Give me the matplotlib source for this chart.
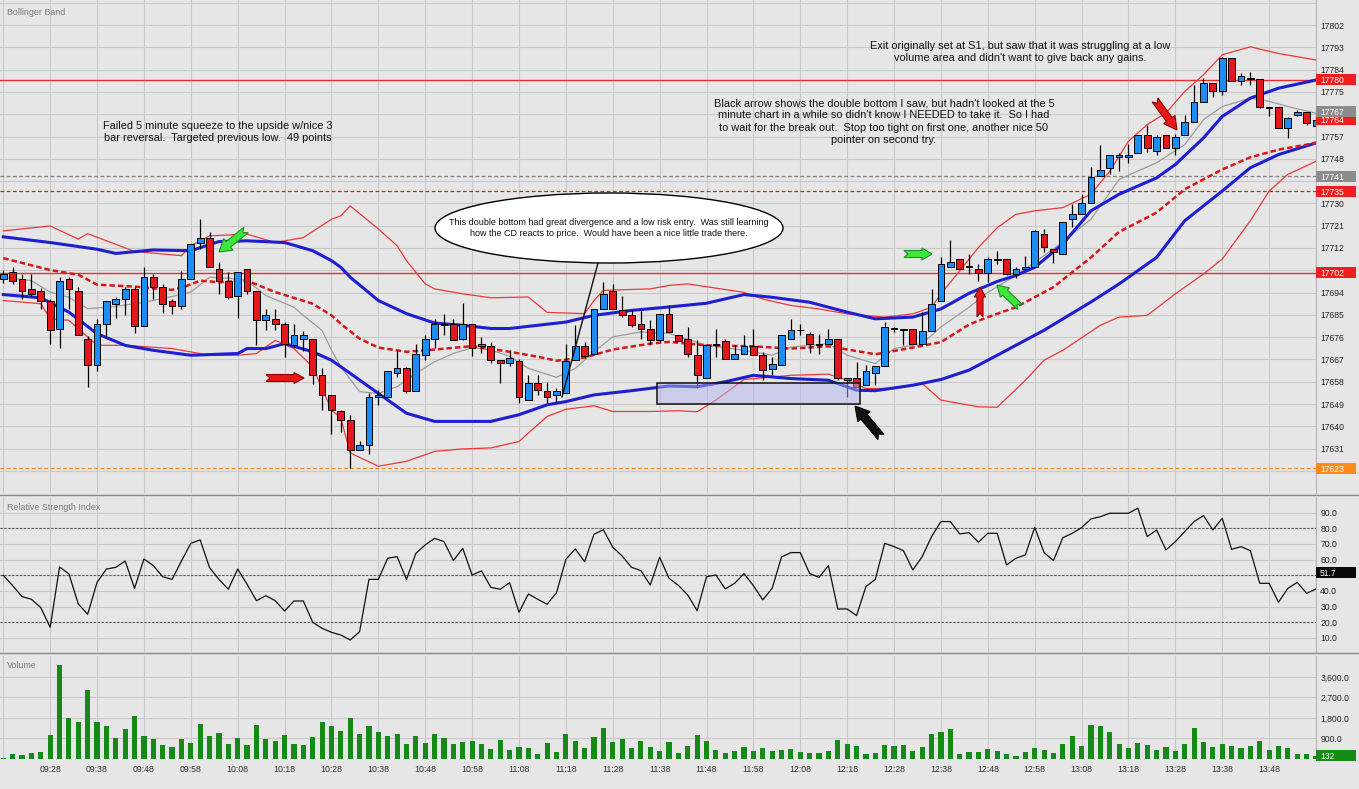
import numpy as np
import matplotlib
matplotlib.use("Agg")
import matplotlib.pyplot as plt
import matplotlib.transforms as mtransforms
from matplotlib.patches import Rectangle, Ellipse, Polygon

plt.rcParams['font.family'] = ['Liberation Sans', 'DejaVu Sans']

# ---------------- data (2-minute bars, 09:18 .. 13:58) ----------------
opens = [17699.5,17702.3,17699.5,17695.5,17694.8,17690.5,17679.4,17699.5,17694.5,17675.4,
         17664.7,17681.4,17689.4,17691.5,17695.5,17680.6,17700.2,17696.4,17690.5,17688.7,
         17699.5,17714.2,17716.2,17703.5,17698.8,17692.8,17703.5,17694.8,17682.8,17683.4,
         17681.4,17672.7,17675.4,17675.4,17660.7,17652.6,17646.0,17642.6,17630.3,17632.6,
         17652.0,17651.7,17661.7,17663.4,17654.4,17668.7,17675.4,17681.4,17681.5,17675.4,
         17681.5,17672.4,17672.4,17666.7,17665.4,17666.5,17650.7,17657.6,17654.4,17652.7,
         17653.6,17666.7,17672.4,17669.4,17687.5,17694.6,17687.1,17684.8,17681.5,17679.5,
         17674.8,17685.4,17676.7,17675.4,17668.7,17659.7,17672.7,17674.4,17667.3,17669.3,
         17672.3,17668.7,17663.3,17664.7,17675.4,17678.7,17677.4,17673.4,17673.1,17675.4,
         17658.6,17659.7,17656.6,17661.6,17664.5,17679.4,17679.4,17679.4,17673.1,17678.5,
         17690.8,17704.4,17707.5,17704.4,17703.5,17702.1,17707.3,17707.5,17701.3,17703.5,
         17704.5,17717.6,17711.6,17709.6,17723.6,17725.6,17730.3,17741.0,17744.4,17748.6,
         17748.6,17750.4,17757.5,17751.3,17757.5,17752.4,17757.5,17762.8,17770.9,17778.5,
         17775.4,17788.5,17779.4,17780.3,17780.2,17769.1,17769.1,17760.4,17765.5,17766.8,
         17761.1]
highs = [17703.0,17704.5,17701.5,17701.5,17696.0,17691.5,17700.2,17700.2,17696.4,17676.3,
         17683.4,17690.8,17692.4,17696.2,17696.2,17704.5,17701.5,17697.5,17691.5,17702.6,
         17713.6,17723.6,17718.6,17706.5,17702.2,17702.2,17703.5,17694.8,17687.5,17687.5,
         17682.1,17681.4,17678.5,17675.4,17663.4,17652.6,17646.7,17644.7,17633.9,17653.3,
         17654.6,17662.5,17670.8,17664.1,17673.4,17676.8,17683.5,17685.5,17683.5,17689.8,
         17681.5,17676.1,17674.1,17666.7,17671.0,17667.0,17660.7,17660.7,17658.0,17655.4,
         17673.4,17680.8,17674.1,17687.5,17698.2,17697.5,17692.8,17686.8,17686.8,17682.8,
         17685.5,17688.8,17676.7,17680.3,17674.7,17673.4,17679.4,17675.4,17672.7,17676.7,
         17679.4,17670.0,17668.0,17676.7,17683.4,17681.4,17678.1,17677.4,17679.4,17675.4,
         17659.7,17666.0,17664.7,17664.5,17682.1,17680.3,17679.4,17679.4,17686.1,17695.5,
         17708.2,17715.1,17707.5,17709.5,17705.5,17708.4,17710.9,17707.5,17704.2,17708.9,
         17719.2,17719.6,17711.6,17722.3,17729.6,17733.7,17744.6,17753.5,17749.5,17750.4,
         17753.8,17757.5,17761.5,17757.5,17757.5,17758.0,17765.8,17777.8,17780.8,17778.5,
         17789.2,17788.5,17782.5,17783.2,17780.2,17769.1,17769.1,17764.7,17767.8,17766.8,
         17765.5]
lows = [17698.0,17697.5,17691.5,17692.8,17687.5,17673.4,17671.8,17687.5,17676.7,17655.7,
        17662.4,17676.1,17683.8,17684.8,17677.7,17680.6,17691.5,17685.7,17685.4,17687.5,
        17699.5,17711.5,17704.2,17693.5,17691.5,17683.8,17693.5,17672.7,17678.7,17678.7,
        17667.8,17672.1,17670.4,17657.0,17646.6,17637.0,17637.6,17623.0,17630.3,17628.9,
        17648.7,17651.7,17659.8,17653.6,17654.4,17666.7,17671.8,17676.8,17674.8,17674.8,
        17668.3,17669.7,17665.7,17657.6,17664.3,17649.6,17650.7,17652.7,17649.6,17650.0,
        17653.6,17666.7,17667.4,17669.4,17687.5,17687.5,17684.1,17680.1,17675.4,17672.8,
        17674.1,17678.1,17674.4,17668.0,17655.3,17659.7,17668.0,17667.3,17667.3,17669.3,
        17668.7,17658.6,17660.6,17664.7,17675.4,17676.7,17669.6,17669.3,17673.1,17658.6,
        17652.0,17656.0,17656.6,17656.6,17664.5,17678.1,17672.7,17673.1,17672.7,17678.5,
        17690.8,17704.4,17703.5,17701.5,17698.8,17698.1,17705.5,17700.9,17700.0,17703.5,
        17704.5,17710.2,17705.8,17709.6,17720.3,17725.6,17730.3,17741.0,17741.7,17743.0,
        17746.4,17750.4,17750.8,17749.5,17752.4,17749.5,17757.5,17762.8,17770.9,17773.1,
        17773.8,17779.4,17777.6,17777.8,17768.5,17765.1,17760.4,17756.4,17765.1,17761.5,
        17761.1]
closes = [17701.5,17698.8,17694.8,17693.5,17690.8,17678.7,17698.6,17695.5,17676.7,17664.7,
          17681.4,17690.5,17691.5,17695.5,17680.6,17700.2,17696.4,17689.4,17688.7,17699.5,
          17713.6,17716.2,17704.2,17698.6,17692.4,17702.2,17694.8,17682.8,17684.8,17681.4,
          17673.4,17676.7,17676.7,17660.7,17652.6,17646.6,17642.4,17630.3,17632.6,17651.7,
          17652.5,17662.5,17663.4,17654.4,17669.4,17675.4,17681.5,17680.8,17674.8,17681.5,
          17671.8,17673.4,17666.7,17665.4,17667.4,17651.7,17657.6,17654.7,17651.7,17654.4,
          17666.5,17672.4,17668.3,17687.5,17693.5,17687.5,17684.8,17680.8,17679.5,17674.8,
          17685.5,17678.1,17674.4,17669.3,17660.6,17672.7,17673.0,17667.3,17669.3,17672.3,
          17668.7,17662.7,17665.3,17676.7,17678.7,17678.9,17673.4,17673.0,17675.4,17659.7,
          17659.7,17656.0,17662.4,17664.5,17680.3,17679.6,17678.7,17673.1,17678.5,17689.4,
          17705.5,17706.4,17703.5,17704.6,17702.1,17707.5,17707.7,17701.5,17703.5,17704.5,
          17718.7,17712.2,17710.2,17722.3,17725.9,17730.3,17740.6,17743.3,17749.5,17749.4,
          17749.4,17757.5,17752.4,17756.7,17752.4,17756.7,17762.8,17770.9,17778.5,17775.4,
          17788.5,17779.4,17781.6,17780.1,17769.1,17768.5,17760.4,17764.4,17766.8,17762.4,
          17763.5]

# band lines (bar index, price)
bb_up_idx = [0,5,8,9,11,14,19,20,22,26,29,32,35,36,37,40,42,43,45,46,49,52,56,58,62,63,64,69,71,73,
             79,81,84,87,90,94,97,99,100,102,104,106,108,110,113,116,118,120,122,124,126,128,130,133,136,140]
bb_up_val = [17718.9,17720.9,17715.6,17717.8,17714.9,17710.6,17708.9,17712.9,17716.9,17717.6,
             17714.2,17716.2,17723.6,17725.0,17729.0,17719.7,17712.9,17706.9,17697.5,17695.5,
             17693.5,17691.9,17692.2,17686.0,17685.5,17690.8,17694.9,17695.5,17696.9,17697.5,
             17694.1,17691.4,17688.8,17687.4,17685.4,17684.1,17685.4,17688.1,17693.5,17702.8,
             17712.2,17720.2,17725.6,17727.0,17728.3,17733.7,17743.0,17755.1,17761.8,17766.5,
             17775.2,17781.9,17790.0,17793.2,17790.5,17787.9]
bb_lo_idx = [0,4,5,7,10,13,18,22,25,27,29,31,33,35,36,37,40,43,46,49,52,55,56,58,60,63,65,69,72,74,
             76,79,84,88,90,92,95,98,100,104,106,109,111,113,117,119,122,125,128,130,133,135,137,140]
bb_lo_val = [17690.8,17689.5,17683.4,17682.8,17672.7,17672.7,17671.4,17668.7,17668.7,17669.4,
             17674.7,17671.4,17664.0,17646.6,17643.3,17629.3,17623.9,17625.9,17629.9,17630.9,
             17631.3,17633.9,17637.3,17644.0,17646.9,17648.3,17646.0,17646.0,17646.3,17645.9,
             17650.6,17658.9,17660.6,17661.1,17658.6,17655.3,17655.3,17657.3,17650.6,17647.9,
             17647.7,17658.6,17666.7,17670.7,17680.8,17684.1,17684.8,17693.5,17701.5,17707.5,
             17723.0,17735.0,17741.7,17747.0]
kc_up_idx = [0,5,10,12,16,20,23,26,30,33,35,36,37,40,43,46,49,52,54,57,60,63,67,71,75,79,82,86,90,93,
             97,100,103,106,108,110,113,116,119,123,125,128,130,133,136,140]
kc_up_val = [17716.5,17714.2,17711.5,17709.8,17711.2,17710.9,17714.6,17714.9,17714.2,17710.9,
             17706.9,17704.2,17700.2,17690.8,17685.5,17681.7,17680.8,17679.5,17679.5,17680.8,
             17682.1,17684.8,17686.8,17688.2,17689.7,17693.2,17692.1,17690.1,17686.1,17683.4,
             17684.1,17687.4,17693.7,17698.5,17700.9,17704.2,17713.6,17727.0,17733.7,17740.3,
             17745.7,17756.4,17765.1,17772.5,17776.5,17779.8]
kc_lo_idx = [0,4,7,10,13,16,20,25,26,28,30,33,35,37,40,43,46,52,55,58,60,63,67,71,74,77,80,84,88,91,
             93,97,100,103,106,111,116,119,123,126,130,133,136,140]
kc_lo_val = [17693.2,17691.9,17686.1,17677.4,17672.7,17670.7,17668.7,17669.4,17671.4,17671.4,
             17673.4,17670.1,17666.7,17661.4,17653.3,17645.3,17642.0,17642.0,17644.7,17648.7,
             17650.0,17652.7,17654.4,17656.3,17656.0,17658.0,17660.6,17659.3,17658.6,17654.6,
             17654.4,17656.6,17658.9,17662.7,17668.7,17678.8,17690.2,17697.5,17708.2,17723.0,
             17735.0,17744.4,17749.7,17754.4]
bb_mid_idx = [0,5,8,10,14,18,19,21,23,26,29,33,35,36,38,40,43,46,50,54,57,59,62,65,69,71,75,80,84,88,
              91,93,97,100,103,105,108,112,116,119,123,126,130,133,136,140]
bb_mid_val = [17707.9,17703.1,17701.2,17697.2,17696.4,17695.1,17695.9,17698.8,17698.2,17698.8,
              17694.2,17689.5,17684.8,17681.4,17675.4,17671.8,17670.1,17671.0,17672.4,17670.1,
              17668.1,17666.5,17667.8,17671.0,17673.4,17674.1,17672.7,17672.3,17671.4,17672.3,
              17670.4,17669.1,17671.8,17674.0,17681.1,17684.1,17688.1,17696.2,17708.2,17718.5,
              17726.3,17735.7,17743.7,17748.6,17751.7,17754.4]
gray_idx = [0,3,5,7,9,12,15,18,20,22,25,26,28,31,32,34,35,36,38,40,42,44,46,48,50,52,54,56,59,61,
            63,65,68,71,75,79,82,84,88,90,93,95,98,100,103,105,108,112,116,119,123,126,128,130,133,135,137,140]
gray_val = [17700.2,17698.8,17694.2,17692.1,17687.5,17688.4,17690.1,17692.4,17694.2,17700.2,
            17699.5,17698.8,17692.8,17688.1,17684.8,17678.7,17670.8,17664.0,17654.0,17653.3,
            17656.0,17661.4,17666.1,17669.4,17671.8,17670.8,17668.3,17663.4,17659.8,17663.4,
            17670.1,17676.1,17678.1,17677.5,17672.7,17670.7,17668.7,17672.0,17673.4,17668.7,
            17665.3,17671.4,17673.4,17680.1,17688.1,17694.1,17700.9,17711.6,17723.6,17739.7,
            17746.4,17753.7,17763.8,17769.1,17772.5,17771.2,17769.1,17766.4]

rsi = [50.0,43.4,36.4,34.7,29.4,16.8,55.3,50.9,31.7,25.1,
       45.5,54.0,55.1,59.1,41.7,60.4,56.2,49.1,47.4,59.1,
       70.4,72.6,54.9,47.4,41.1,54.0,44.3,33.8,37.0,33.8,
       27.2,33.6,33.6,20.0,16.2,13.6,11.9,8.7,14.0,47.4,
       47.4,60.9,61.9,47.4,64.0,69.4,73.6,71.5,59.4,67.2,
       50.2,52.8,42.3,41.1,45.3,26.4,38.1,34.7,31.5,38.9,
       60.2,66.8,58.7,76.2,79.1,67.9,62.3,55.1,53.0,43.8,
       61.5,48.1,43.6,37.4,27.4,49.1,50.2,41.3,44.9,51.1,
       43.4,34.3,41.7,61.7,64.5,64.5,51.1,48.7,56.2,28.5,
       28.5,24.3,42.8,47.4,70.4,68.3,65.7,53.4,61.9,74.7,
       84.3,84.3,76.4,77.2,71.1,76.8,76.8,56.6,60.9,63.0,
       80.6,64.5,59.4,74.0,76.8,80.4,86.0,87.4,89.6,89.6,
       89.6,92.8,74.7,78.9,66.2,71.5,77.9,84.3,88.1,78.9,
       86.4,66.6,68.3,65.7,44.9,44.9,32.8,41.7,45.5,38.5,
       41.3]

volume = [45,205,160,250,293,1039,4111,1800,1624,3014,
          1624,1434,922,1302,1873,1009,863,600,512,863,
          688,1522,995,1127,644,907,600,1478,863,775,
          1039,644,600,951,1609,1434,1214,1785,1083,1434,
          1170,995,1083,644,995,688,1083,907,644,731,
          775,644,424,819,380,512,468,205,688,293,
          1083,775,468,951,1346,731,863,468,775,512,
          336,731,250,556,1039,775,380,250,336,512,
          336,468,336,380,424,293,263,263,336,819,
          644,556,205,250,600,556,600,336,512,1083,
          1170,1302,205,293,293,424,336,205,117,293,
          468,380,250,644,995,556,1478,1434,1170,644,
          468,688,600,380,512,336,644,1346,731,512,
          644,570,468,556,775,380,556,468,205,205,
          132]

time_labels = ['09:28','09:38','09:48','09:58','10:08','10:18','10:28','10:38','10:48',
               '10:58','11:08','11:18','11:28','11:38','11:48','11:58','12:08','12:18',
               '12:28','12:38','12:48','12:58','13:08','13:18','13:28','13:38','13:48']

rsi_ticks = [10, 20, 30, 40, 50, 60, 70, 80, 90]
vol_ticks = [900, 1800, 2700, 3600]
vol_tick_labels = ['900.0', '1,800.0', '2,700.0', '3,600.0']

# ---------------- figure ----------------
W, H = 1359, 789
BG = '#E6E6E6'
fig = plt.figure(figsize=(W / 100, H / 100), dpi=100)
fig.patch.set_facecolor(BG)


def rect(x0, y0, x1, y1):
    return [x0 / W, 1 - y1 / H, (x1 - x0) / W, (y1 - y0) / H]


PLOT_R = 1316
ax_p = fig.add_axes(rect(0, 0, PLOT_R, 493))
ax_r = fig.add_axes(rect(0, 497, PLOT_R, 652))
ax_v = fig.add_axes(rect(0, 656, PLOT_R, 759))

n = len(opens)
x = np.arange(n)

for ax in (ax_p, ax_r, ax_v):
    ax.set_facecolor(BG)
    ax.set_xlim(-0.35, 139.95)
    ax.set_xticks(np.arange(0, n, 5))
    ax.grid(True, color='#C9C9C9', lw=0.8)
    ax.set_axisbelow(True)
    for s in ('top', 'left', 'bottom'):
        ax.spines[s].set_visible(False)
    ax.spines['right'].set_color('#B5B5B5')
    ax.yaxis.tick_right()
    ax.tick_params(axis='both', length=0, labelsize=6.2, colors='#222222')
    ax.tick_params(axis='y', pad=3)
    ax.tick_params(axis='x', labelbottom=False)

# ---- price panel ----
ax_p.set_ylim(17613.1, 17812.1)
pt = np.arange(17622, 17812, 9)
hidden = {17622, 17811, 17766, 17739, 17703}
ax_p.set_yticks(pt)
ax_p.set_yticklabels(['' if v in hidden else str(v) for v in pt])

ax_p.plot(bb_up_idx, bb_up_val, color='#F03838', lw=0.9, zorder=2)
ax_p.plot(bb_lo_idx, bb_lo_val, color='#F03838', lw=0.9, zorder=2)
ax_p.plot(gray_idx, gray_val, color='#9C9C9C', lw=0.9, zorder=2)
ax_p.plot(kc_up_idx, kc_up_val, color='#1E1ED2', lw=2.2, zorder=2.2)
ax_p.plot(kc_lo_idx, kc_lo_val, color='#1E1ED2', lw=2.2, zorder=2.2)
ax_p.plot(bb_mid_idx, bb_mid_val, color='#D81818', lw=1.8, dashes=(2.2, 1.2), zorder=2.3)

ax_p.axhline(17780, color='#E63030', lw=1.0, zorder=1.8)
ax_p.axhline(17702, color='#E63030', lw=1.0, zorder=1.8)
ax_p.axhline(17741, color='#808080', lw=0.9, ls=(0, (3, 2)), zorder=1.8)
ax_p.axhline(17735, color='#D82020', lw=0.9, ls=(0, (3, 2)), zorder=1.8)
ax_p.axhline(17623, color='#FF8C1A', lw=0.9, ls=(0, (3, 2)), zorder=1.8)

o = np.array(opens); c = np.array(closes)
hi = np.array(highs); lo = np.array(lows)
up = c >= o
cols = np.where(up, '#1E8CF5', '#E4181C')
ax_p.vlines(x, lo, hi, color='black', lw=0.9, zorder=3.5)
ax_p.bar(x, np.maximum(np.abs(c - o), 0.35), bottom=np.minimum(o, c), width=0.72,
         color=cols, edgecolor='black', linewidth=0.7, zorder=4)

# ---- RSI panel ----
ax_r.set_ylim(1.05, 99.97)
ax_r.set_yticks(rsi_ticks)
ax_r.set_yticklabels(['' if v == 50 else '%.1f' % v for v in rsi_ticks])
for v in (20, 50, 80):
    ax_r.axhline(v, color='#5A5A5A', lw=0.8, ls=(0, (2, 1.5)), zorder=1.5)
ax_r.plot(x, rsi, color='#111111', lw=0.9, zorder=3)

# ---- volume panel ----
ax_v.set_ylim(0, 4520)
ax_v.set_yticks(vol_ticks)
ax_v.set_yticklabels(vol_tick_labels)
ax_v.bar(x, volume, width=0.55, color='#168A16', zorder=3)
ax_v.set_xticklabels([''] + time_labels + [''])
ax_v.tick_params(axis='x', labelbottom=True, pad=4, labelsize=6.3, colors='#333333')


# ---- right-side value boxes ----
def side_box(ax, val, txt, fc, tc='white', h_px=11):
    tr = mtransforms.blended_transform_factory(ax.transAxes, ax.transData)
    y0, y1 = ax.get_ylim()
    h = h_px * (y1 - y0) / (ax.get_position().height * H)
    ax.add_patch(Rectangle((1.0, val - h / 2), 40 / PLOT_R, h, transform=tr, fc=fc,
                           ec='none', clip_on=False, zorder=6))
    ax.text(1.0 + 4 / PLOT_R, val, txt, transform=tr, ha='left', va='center_baseline',
            fontsize=6.2, color=tc, clip_on=False, zorder=7)


side_box(ax_p, 17780, '17780', '#F01E1E')
side_box(ax_p, 17764, '17764', '#F01E1E')
side_box(ax_p, 17767, '17767', '#8C8C8C')
side_box(ax_p, 17741, '17741', '#8C8C8C')
side_box(ax_p, 17735, '17735', '#F01E1E')
side_box(ax_p, 17702, '17702', '#F01E1E')
side_box(ax_p, 17623, '17623', '#FF8C1A')
side_box(ax_r, 51.7, '51.7', '#0A0A0A')
side_box(ax_v, 132, '132', '#168A16')

# ---------------- overlay for annotations (pixel coordinates) ----------------
ax_o = fig.add_axes([0, 0, 1, 1])
ax_o.set_xlim(0, W)
ax_o.set_ylim(H, 0)
ax_o.axis('off')
ax_o.patch.set_alpha(0)
ax_o.set_zorder(10)

ax_o.plot([0, W], [494.5, 494.5], color='#8A8A8A', lw=1)
ax_o.plot([0, W], [652.5, 652.5], color='#8A8A8A', lw=1)

ax_o.text(7, 12, 'Bollinger Band', fontsize=6.4, color='#7A7A7A', va='center')
ax_o.text(7, 507, 'Relative Strength Index', fontsize=6.4, color='#7A7A7A', va='center')
ax_o.text(7, 666, 'Volume', fontsize=6.4, color='#7A7A7A', va='center')

ax_o.text(218, 132, 'Failed 5 minute squeeze to the upside w/nice 3\n'
          'bar reversal.  Targeted previous low.  49 points',
          ha='center', va='center', fontsize=7.9, linespacing=1.15, color='#111111')
ax_o.text(1020, 52, "Exit originally set at S1, but saw that it was struggling at a low\n"
          "volume area and didn't want to give back any gains.",
          ha='center', va='center', fontsize=7.9, linespacing=1.24, color='#111111')
ax_o.text(884, 121.5, "Black arrow shows the double bottom I saw, but hadn't looked at the 5\n"
          "minute chart in a while so didn't know I NEEDED to take it.  So I had\n"
          "to wait for the break out.  Stop too tight on first one, another nice 50\n"
          "pointer on second try.",
          ha='center', va='center', fontsize=7.9, linespacing=1.27, color='#111111')

# callout
ax_o.plot([598, 562], [263, 397], color='#111111', lw=1)
ax_o.add_patch(Ellipse((609, 228), 348, 70, fc='white', ec='black', lw=1))
ax_o.text(609, 228, 'This double bottom had great divergence and a low risk entry.  Was still learning\n'
          'how the CD reacts to price.  Would have been a nice little trade there.',
          ha='center', va='center', fontsize=6.5, linespacing=1.27, color='#111111')

# highlighted double-bottom box
ax_o.add_patch(Rectangle((657, 382.5), 203, 21, fc='#B4B4F0', alpha=0.5, ec='none'))
ax_o.add_patch(Rectangle((657, 382.5), 203, 21, fc='none', ec='#111111', lw=1.1))


def block_arrow(tail, tip, hw, w, hl, notch, fc, ec):
    t = np.array(tail, float)
    p = np.array(tip, float)
    d = p - t
    L = np.hypot(*d)
    u = d / L
    nrm = np.array([-u[1], u[0]])
    loc = [(0, w), (L - hl, w), (L - hl, hw), (L, 0), (L - hl, -hw), (L - hl, -w), (0, -w), (notch, 0)]
    pts = [t + a * u + b * nrm for a, b in loc]
    ax_o.add_patch(Polygon(pts, closed=True, fc=fc, ec=ec, lw=0.8, zorder=5))


GREEN, GREEN_E = '#3BE83B', '#1F8F1F'
RED, RED_E = '#E81818', '#8B0000'
block_arrow((246, 230), (219, 252), 7.5, 3.5, 12, 4, GREEN, GREEN_E)
block_arrow((266, 378), (304, 378), 5.5, 3.5, 10, 4, RED, RED_E)
block_arrow((904, 254), (932, 254), 6, 3.5, 10, 4, GREEN, GREEN_E)
block_arrow((980, 317), (980, 287), 5.5, 3, 10, 4, RED, RED_E)
block_arrow((1020, 307), (997, 285), 6.5, 3.5, 11, 4, GREEN, GREEN_E)
block_arrow((1155, 100), (1177, 130), 7, 3.5, 13, 4, RED, RED_E)
block_arrow((881, 437), (855, 406), 8, 4, 14, 4, '#111111', '#000000')

fig.savefig('out.png', dpi=100, facecolor=BG)
